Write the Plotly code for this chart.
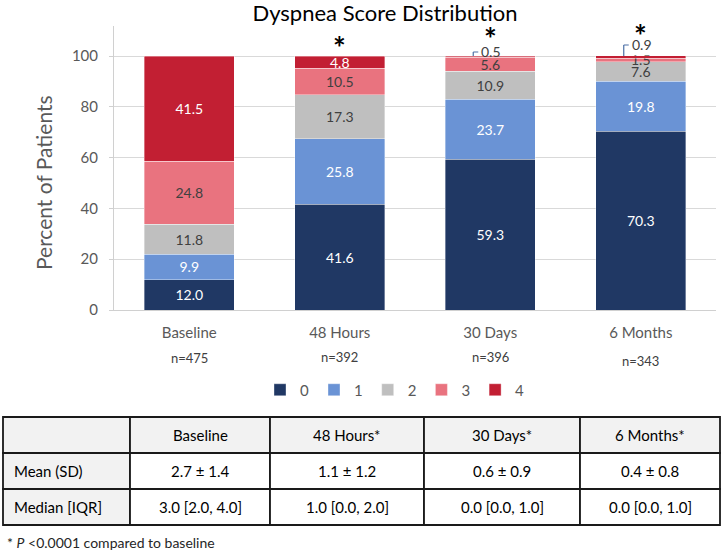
import plotly.graph_objects as go

# ---------------- data ----------------
categories = ["Baseline", "48 Hours", "30 Days", "6 Months"]
n_labels = ["n=475", "n=392", "n=396", "n=343"]
score_names = ["0", "1", "2", "3", "4"]
score0 = [12.0, 41.6, 59.3, 70.3]
score1 = [9.9, 25.8, 23.7, 19.8]
score2 = [11.8, 17.3, 10.9, 7.6]
score3 = [24.8, 10.5, 5.6, 1.5]
score4 = [41.5, 4.8, 0.5, 0.9]
significant = [False, True, True, True]

table_header = ["", "Baseline", "48 Hours*", "30 Days*", "6 Months*"]
row_labels = ["Mean (SD)", "Median [IQR]"]
mean_sd = ["2.7 ± 1.4", "1.1 ± 1.2", "0.6 ± 0.9", "0.4 ± 0.8"]
median_iqr = ["3.0 [2.0, 4.0]", "1.0 [0.0, 2.0]", "0.0 [0.0, 1.0]", "0.0 [0.0, 1.0]"]

# ---------------- styles / layout geometry ----------------
W, H_REF = 722, 554          # reference picture size
H = 562                      # figure height (page viewport is photographed then fitted)
SY = H / H_REF               # reference px -> figure px (vertical)


def py(y_ref):
    """paper y fraction for a vertical position given in reference pixels"""
    return 1 - y_ref / H_REF


colors = ["#203864", "#6A93D5", "#BFBFBF", "#E9737F", "#C21F33"]
text_colors = ["#FFFFFF", "#FFFFFF", "#404040", "#404040", "#FFFFFF"]
FONT = "Lato, 'Open Sans', sans-serif"
AXIS_GRAY = "#D0D0D0"
series = [score0, score1, score2, score3, score4]

x_dom = [114 / W, 716 / W]
y0_ref, y100_ref = 310, 56
y_max = 112
ref_per_unit = (y0_ref - y100_ref) / 100.0
px_per_unit = ref_per_unit * SY
y_dom = [py(y0_ref), py(y0_ref - y_max * ref_per_unit)]
px_per_cat = (x_dom[1] - x_dom[0]) * W / len(categories)

fig = go.Figure()
for name, vals, c, tc in zip(score_names, series, colors, text_colors):
    fig.add_trace(go.Bar(
        x=categories, y=vals, name=name,
        marker=dict(color=c, line=dict(color="rgba(255,255,255,0.6)", width=0.6)),
        text=[f"{v:.1f}" if v >= 1 else "" for v in vals],
        textposition="inside", insidetextanchor="middle", textangle=0,
        textfont=dict(color=tc, size=14, family=FONT),
        width=0.6, hoverinfo="skip",
    ))

annotations = []
shapes = []
# small top segments: label outside with leader bracket
lift_ref = [0, 0, 4, 11]
for i, cat in enumerate(categories):
    v = score4[i]
    if v < 1:
        top = min(sum(s[i] for s in series), 100)
        xl = i - 17 / px_per_cat
        y_up = top + lift_ref[i] * SY / px_per_unit
        shapes.append(dict(type="line", xref="x", yref="y", x0=xl, x1=xl,
                           y0=top, y1=y_up, line=dict(color="#4A6FA5", width=1.2)))
        shapes.append(dict(type="line", xref="x", yref="y", x0=xl, x1=xl + 5 / px_per_cat,
                           y0=y_up, y1=y_up, line=dict(color="#4A6FA5", width=1.2)))
        annotations.append(dict(x=xl + 5 / px_per_cat, y=y_up, xref="x", yref="y",
                                text=f"{v:.1f}", showarrow=False, xanchor="left",
                                yanchor="middle", xshift=1,
                                font=dict(size=14, color="#404040", family=FONT)))

# significance asterisks
star_shift_ref = [0, 9, 18, 21]
for i, cat in enumerate(categories):
    if significant[i]:
        annotations.append(dict(x=cat, y=100, xref="x", yref="y", text="<b>*</b>",
                                showarrow=False, yanchor="middle",
                                yshift=star_shift_ref[i] * SY,
                                font=dict(size=30, color="#000000", family=FONT)))

# n labels under categories
n_y_ref = [358, 357, 357, 361]
for i, cat in enumerate(categories):
    annotations.append(dict(x=cat, y=py(n_y_ref[i]), xref="x", yref="paper",
                            text=n_labels[i], showarrow=False, yanchor="middle",
                            font=dict(size=13, color="#404040", family=FONT)))

# y-axis title, centred on the 0-100 scale
annotations.append(dict(x=43 / W, y=py((y0_ref + y100_ref) / 2), xref="paper", yref="paper",
                        text="Percent of Patients", textangle=-90, showarrow=False,
                        xanchor="center", yanchor="middle",
                        font=dict(size=21, color="#595959", family=FONT)))

# footnote
annotations.append(dict(x=5 / W, y=py(542), xref="paper", yref="paper",
                        text="* <i>P</i> &lt;0.0001 compared to baseline",
                        showarrow=False, xanchor="left", yanchor="middle",
                        font=dict(size=14, color="#262626", family=FONT)))

# summary table (cells as rectangles + text)
col_px = [3, 130, 270, 424, 580, 720]
row_ref = [417, 453, 489, 525]
table_rows = [table_header,
              [row_labels[0]] + mean_sd,
              [row_labels[1]] + median_iqr]
for r, row in enumerate(table_rows):
    for c, txt in enumerate(row):
        x0, x1 = col_px[c] / W, col_px[c + 1] / W
        y1, y0 = py(row_ref[r]), py(row_ref[r + 1])
        fill = "#F2F2F2" if (r == 0 or c == 0) else "#FFFFFF"
        shapes.append(dict(type="rect", xref="paper", yref="paper",
                           x0=x0, x1=x1, y0=y0, y1=y1, fillcolor=fill,
                           line=dict(color="#1A1A1A", width=1.8), layer="below"))
        if txt:
            left = (c == 0)
            annotations.append(dict(
                x=(x0 + 9 / W) if left else (x0 + x1) / 2, y=(y0 + y1) / 2,
                xref="paper", yref="paper", text=txt, showarrow=False,
                xanchor="left" if left else "center", yanchor="middle",
                font=dict(size=15, color="#000000", family=FONT)))

fig.update_layout(
    width=W, height=H, autosize=False,
    margin=dict(l=0, r=0, t=0, b=0),
    paper_bgcolor="white", plot_bgcolor="white",
    barmode="stack", bargap=0.4,
    font=dict(family=FONT, color="#595959"),
    title=dict(text="Dyspnea Score Distribution", x=385 / W, xanchor="center",
               y=py(13), yanchor="middle",
               font=dict(size=22, color="#000000", family=FONT)),
    xaxis=dict(domain=x_dom, type="category", showgrid=False, ticks="",
               showline=True, linecolor=AXIS_GRAY, linewidth=1,
               tickfont=dict(size=15, color="#595959", family=FONT),
               ticklabelstandoff=9),
    yaxis=dict(domain=y_dom, range=[0, y_max], tickvals=[0, 20, 40, 60, 80, 100],
               showgrid=True, gridcolor="#D9D9D9", gridwidth=1, zeroline=False,
               showline=True, linecolor=AXIS_GRAY, linewidth=1,
               ticks="outside", ticklen=4, tickcolor=AXIS_GRAY, ticklabelstandoff=8,
               tickfont=dict(size=15, color="#595959", family=FONT)),
    legend=dict(orientation="h", x=395 / W, xanchor="center", y=py(390),
                yanchor="middle", traceorder="normal",
                font=dict(size=15, color="#595959", family=FONT)),
    uniformtext=dict(minsize=14, mode="show"),
    annotations=annotations, shapes=shapes,
    showlegend=True,
)

page_css = ("var s=document.createElement('style');"
            "s.textContent='html,body{margin:0;padding:0;overflow:hidden;}';"
            "document.head.appendChild(s);")
fig.write_html("out.html", config={"displayModeBar": False}, post_script=page_css)
